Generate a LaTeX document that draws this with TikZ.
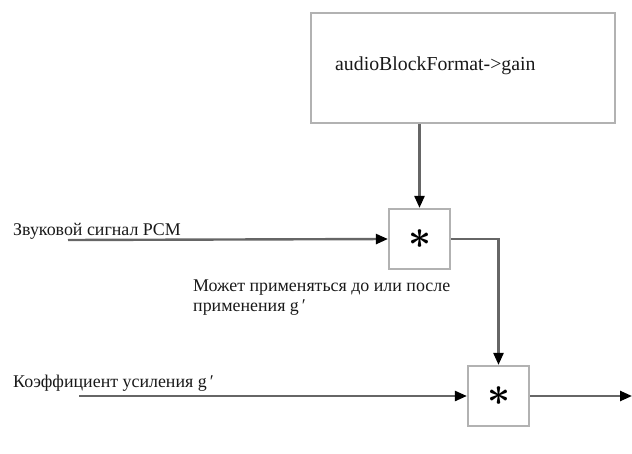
\documentclass[tikz,border=0pt]{standalone}
\usepackage{fontspec}
\setmainfont{Liberation Serif}
\usetikzlibrary{arrows.meta,calc}
\begin{document}
\begin{tikzpicture}[x=1pt,y=-1pt,
  lbl/.style={font=\fontsize{17.9}{20}\selectfont, inner sep=0pt, anchor=base west, text=black!90},
  boxstyle/.style={draw=black!30, line width=2.2pt, fill=white, inner sep=0pt},
  mult/.style={boxstyle, minimum width=61pt, minimum height=60pt},
  conn/.style={draw=black!60, line width=2.4pt},
  arr/.style={conn, -{Triangle[length=12pt,width=10pt,fill=black,color=black]}}]
\useasboundingbox (0,0) rectangle (632,453);
\node[boxstyle, minimum width=304pt, minimum height=110pt] (top) at (463,68) {};
\node[lbl, font=\fontsize{19.8}{22}\selectfont] (toptext) at (335,70) {audioBlockFormat->gain};
\node[mult] (b1) at (419.5,239) {\scalebox{4}{\boldmath$\ast$}};
\node[mult] (b2) at (498.5,396) {\scalebox{4}{\boldmath$\ast$}};
\coordinate (pcmstart) at (68,240);
\coordinate (gstart) at (79,396);
\coordinate (outend) at (632,396);
\node[lbl] (pcmlbl) at (13,235) {Звуковой сигнал PCM};
\node[lbl, align=left, anchor=north west] (note) at (193,280) {Может применяться до или после\\применения g\,′};
\node[lbl] (gainlbl) at (13,387) {Коэффициент усиления g\,′};
\draw[arr] (top.south -| b1.north) -- (b1.north);
\draw[arr] (pcmstart) -- (b1.west);
\draw[arr] (b1.east) -| (b2.north);
\draw[arr] (gstart) -- (b2.west);
\draw[arr] (b2.east) -- (outend);
\end{tikzpicture}
\end{document}
